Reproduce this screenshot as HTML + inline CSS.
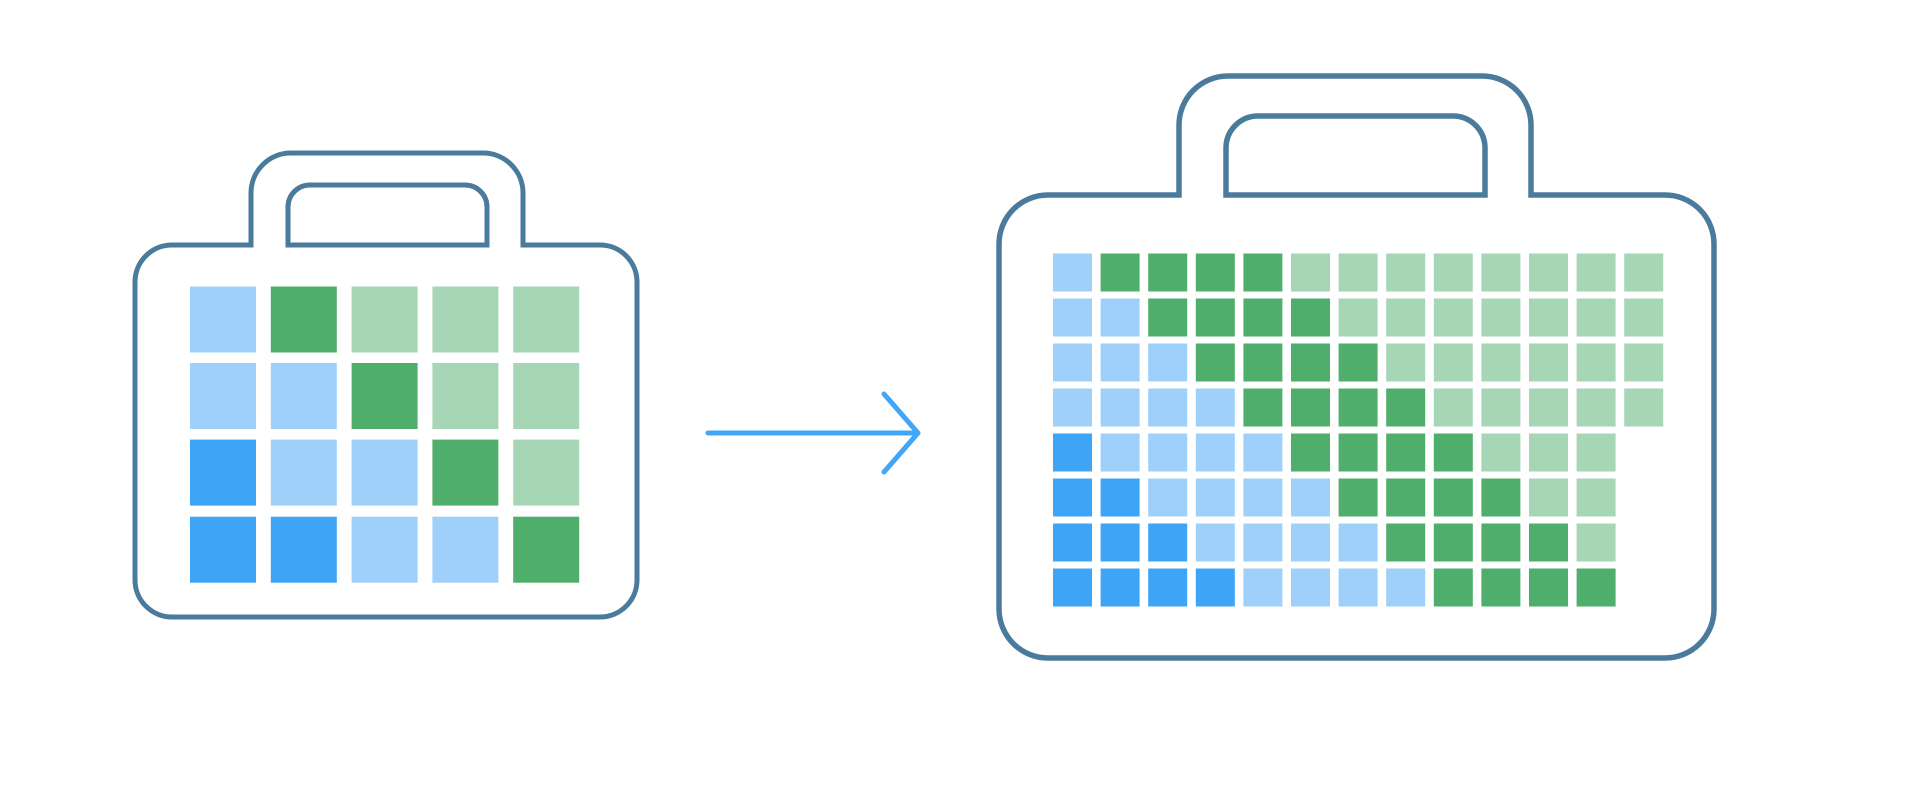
<!DOCTYPE html>
<html><head><meta charset="utf-8"><style>
html,body{margin:0;padding:0;background:#fff;}
svg{display:block;}
.lb{fill:#9ed0f9}.db{fill:#3ea4f5}.dg{fill:#4fae6c}.lg{fill:#a7d6b7}
</style></head><body>
<svg width="1920" height="795" viewBox="0 0 1920 795" xmlns="http://www.w3.org/2000/svg">
<g fill="none" stroke="#4a7b9d" stroke-width="5">
<path d="M251,245 V193 A40,40 0 0 1 291,153 H483 A40,40 0 0 1 523,193 V245 H600 A37,37 0 0 1 637,282 V580 A37,37 0 0 1 600,617 H172 A37,37 0 0 1 135,580 V282 A37,37 0 0 1 172,245 Z"/>
<path d="M288,245 V207 A22,22 0 0 1 310,185 H465 A22,22 0 0 1 487,207 V245 Z"/>
<path stroke-width="5.5" d="M1179,195 V125 A49,49 0 0 1 1228,76 H1482 A49,49 0 0 1 1531,125 V195 H1665 A49,49 0 0 1 1714,244 V609 A49,49 0 0 1 1665,658 H1048 A49,49 0 0 1 999,609 V244 A49,49 0 0 1 1048,195 Z"/>
<path stroke-width="5.5" d="M1226,195 V148 A32,32 0 0 1 1258,116 H1453 A32,32 0 0 1 1485,148 V195 Z"/>
</g>
<g stroke="#42a5f5" stroke-width="5" stroke-linecap="round" stroke-linejoin="round" fill="none">
<path d="M708,433 H918 M884,394 L918,433 L884,472"/>
</g>
<g>
<rect class="lb" x="190" y="286.5" width="66" height="66"/><rect class="dg" x="270.8" y="286.5" width="66" height="66"/><rect class="lg" x="351.6" y="286.5" width="66" height="66"/><rect class="lg" x="432.4" y="286.5" width="66" height="66"/><rect class="lg" x="513.2" y="286.5" width="66" height="66"/>
<rect class="lb" x="190" y="363" width="66" height="66"/><rect class="lb" x="270.8" y="363" width="66" height="66"/><rect class="dg" x="351.6" y="363" width="66" height="66"/><rect class="lg" x="432.4" y="363" width="66" height="66"/><rect class="lg" x="513.2" y="363" width="66" height="66"/>
<rect class="db" x="190" y="439.6" width="66" height="66"/><rect class="lb" x="270.8" y="439.6" width="66" height="66"/><rect class="lb" x="351.6" y="439.6" width="66" height="66"/><rect class="dg" x="432.4" y="439.6" width="66" height="66"/><rect class="lg" x="513.2" y="439.6" width="66" height="66"/>
<rect class="db" x="190" y="516.7" width="66" height="66"/><rect class="db" x="270.8" y="516.7" width="66" height="66"/><rect class="lb" x="351.6" y="516.7" width="66" height="66"/><rect class="lb" x="432.4" y="516.7" width="66" height="66"/><rect class="dg" x="513.2" y="516.7" width="66" height="66"/>
</g>
<g>
<rect class="lb" x="1053" y="253.5" width="39" height="38"/><rect class="dg" x="1100.6" y="253.5" width="39" height="38"/><rect class="dg" x="1148.2" y="253.5" width="39" height="38"/><rect class="dg" x="1195.8" y="253.5" width="39" height="38"/><rect class="dg" x="1243.4" y="253.5" width="39" height="38"/><rect class="lg" x="1291" y="253.5" width="39" height="38"/><rect class="lg" x="1338.6" y="253.5" width="39" height="38"/><rect class="lg" x="1386.2" y="253.5" width="39" height="38"/><rect class="lg" x="1433.8" y="253.5" width="39" height="38"/><rect class="lg" x="1481.4" y="253.5" width="39" height="38"/><rect class="lg" x="1529" y="253.5" width="39" height="38"/><rect class="lg" x="1576.6" y="253.5" width="39" height="38"/><rect class="lg" x="1624.2" y="253.5" width="39" height="38"/>
<rect class="lb" x="1053" y="298.5" width="39" height="38"/><rect class="lb" x="1100.6" y="298.5" width="39" height="38"/><rect class="dg" x="1148.2" y="298.5" width="39" height="38"/><rect class="dg" x="1195.8" y="298.5" width="39" height="38"/><rect class="dg" x="1243.4" y="298.5" width="39" height="38"/><rect class="dg" x="1291" y="298.5" width="39" height="38"/><rect class="lg" x="1338.6" y="298.5" width="39" height="38"/><rect class="lg" x="1386.2" y="298.5" width="39" height="38"/><rect class="lg" x="1433.8" y="298.5" width="39" height="38"/><rect class="lg" x="1481.4" y="298.5" width="39" height="38"/><rect class="lg" x="1529" y="298.5" width="39" height="38"/><rect class="lg" x="1576.6" y="298.5" width="39" height="38"/><rect class="lg" x="1624.2" y="298.5" width="39" height="38"/>
<rect class="lb" x="1053" y="343.5" width="39" height="38"/><rect class="lb" x="1100.6" y="343.5" width="39" height="38"/><rect class="lb" x="1148.2" y="343.5" width="39" height="38"/><rect class="dg" x="1195.8" y="343.5" width="39" height="38"/><rect class="dg" x="1243.4" y="343.5" width="39" height="38"/><rect class="dg" x="1291" y="343.5" width="39" height="38"/><rect class="dg" x="1338.6" y="343.5" width="39" height="38"/><rect class="lg" x="1386.2" y="343.5" width="39" height="38"/><rect class="lg" x="1433.8" y="343.5" width="39" height="38"/><rect class="lg" x="1481.4" y="343.5" width="39" height="38"/><rect class="lg" x="1529" y="343.5" width="39" height="38"/><rect class="lg" x="1576.6" y="343.5" width="39" height="38"/><rect class="lg" x="1624.2" y="343.5" width="39" height="38"/>
<rect class="lb" x="1053" y="388.5" width="39" height="38"/><rect class="lb" x="1100.6" y="388.5" width="39" height="38"/><rect class="lb" x="1148.2" y="388.5" width="39" height="38"/><rect class="lb" x="1195.8" y="388.5" width="39" height="38"/><rect class="dg" x="1243.4" y="388.5" width="39" height="38"/><rect class="dg" x="1291" y="388.5" width="39" height="38"/><rect class="dg" x="1338.6" y="388.5" width="39" height="38"/><rect class="dg" x="1386.2" y="388.5" width="39" height="38"/><rect class="lg" x="1433.8" y="388.5" width="39" height="38"/><rect class="lg" x="1481.4" y="388.5" width="39" height="38"/><rect class="lg" x="1529" y="388.5" width="39" height="38"/><rect class="lg" x="1576.6" y="388.5" width="39" height="38"/><rect class="lg" x="1624.2" y="388.5" width="39" height="38"/>
<rect class="db" x="1053" y="433.5" width="39" height="38"/><rect class="lb" x="1100.6" y="433.5" width="39" height="38"/><rect class="lb" x="1148.2" y="433.5" width="39" height="38"/><rect class="lb" x="1195.8" y="433.5" width="39" height="38"/><rect class="lb" x="1243.4" y="433.5" width="39" height="38"/><rect class="dg" x="1291" y="433.5" width="39" height="38"/><rect class="dg" x="1338.6" y="433.5" width="39" height="38"/><rect class="dg" x="1386.2" y="433.5" width="39" height="38"/><rect class="dg" x="1433.8" y="433.5" width="39" height="38"/><rect class="lg" x="1481.4" y="433.5" width="39" height="38"/><rect class="lg" x="1529" y="433.5" width="39" height="38"/><rect class="lg" x="1576.6" y="433.5" width="39" height="38"/>
<rect class="db" x="1053" y="478.5" width="39" height="38"/><rect class="db" x="1100.6" y="478.5" width="39" height="38"/><rect class="lb" x="1148.2" y="478.5" width="39" height="38"/><rect class="lb" x="1195.8" y="478.5" width="39" height="38"/><rect class="lb" x="1243.4" y="478.5" width="39" height="38"/><rect class="lb" x="1291" y="478.5" width="39" height="38"/><rect class="dg" x="1338.6" y="478.5" width="39" height="38"/><rect class="dg" x="1386.2" y="478.5" width="39" height="38"/><rect class="dg" x="1433.8" y="478.5" width="39" height="38"/><rect class="dg" x="1481.4" y="478.5" width="39" height="38"/><rect class="lg" x="1529" y="478.5" width="39" height="38"/><rect class="lg" x="1576.6" y="478.5" width="39" height="38"/>
<rect class="db" x="1053" y="523.5" width="39" height="38"/><rect class="db" x="1100.6" y="523.5" width="39" height="38"/><rect class="db" x="1148.2" y="523.5" width="39" height="38"/><rect class="lb" x="1195.8" y="523.5" width="39" height="38"/><rect class="lb" x="1243.4" y="523.5" width="39" height="38"/><rect class="lb" x="1291" y="523.5" width="39" height="38"/><rect class="lb" x="1338.6" y="523.5" width="39" height="38"/><rect class="dg" x="1386.2" y="523.5" width="39" height="38"/><rect class="dg" x="1433.8" y="523.5" width="39" height="38"/><rect class="dg" x="1481.4" y="523.5" width="39" height="38"/><rect class="dg" x="1529" y="523.5" width="39" height="38"/><rect class="lg" x="1576.6" y="523.5" width="39" height="38"/>
<rect class="db" x="1053" y="568.5" width="39" height="38"/><rect class="db" x="1100.6" y="568.5" width="39" height="38"/><rect class="db" x="1148.2" y="568.5" width="39" height="38"/><rect class="db" x="1195.8" y="568.5" width="39" height="38"/><rect class="lb" x="1243.4" y="568.5" width="39" height="38"/><rect class="lb" x="1291" y="568.5" width="39" height="38"/><rect class="lb" x="1338.6" y="568.5" width="39" height="38"/><rect class="lb" x="1386.2" y="568.5" width="39" height="38"/><rect class="dg" x="1433.8" y="568.5" width="39" height="38"/><rect class="dg" x="1481.4" y="568.5" width="39" height="38"/><rect class="dg" x="1529" y="568.5" width="39" height="38"/><rect class="dg" x="1576.6" y="568.5" width="39" height="38"/>
</g>
</svg>
</body></html>
